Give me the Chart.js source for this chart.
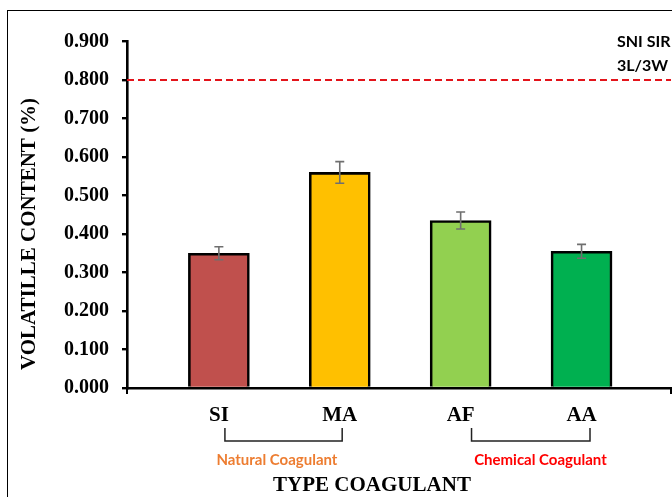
<!DOCTYPE html>
<html>
<head>
<meta charset="utf-8">
<script src="https://cdn.jsdelivr.net/npm/chart.js@4.4.1/dist/chart.umd.min.js"></script>
<style>
  html, body { margin: 0; padding: 0; background: #fff; overflow: hidden; }
  canvas { display: block; }
</style>
</head>
<body>
<canvas id="c" width="672" height="497"></canvas>
<script>
// Volatile content per coagulant type
const categories = ['SI', 'MA', 'AF', 'AA'];
const volatileContent = [0.350, 0.560, 0.435, 0.355];
const errorMargins = [0.017, 0.028, 0.022, 0.018];
const barColors = ['#C0504D', '#FFC000', '#92D050', '#00B050'];
const yTickValues = [0, 0.1, 0.2, 0.3, 0.4, 0.5, 0.6, 0.7, 0.8, 0.9];
const sniLimit = 0.8;
const sniLabel = ['SNI SIR', '3L/3W'];
const groupNames = ['Natural Coagulant', 'Chemical Coagulant'];
const groupColors = ['#ED7D31', '#FF0000'];

const X_MIN = -0.76, X_MAX = 3.74;
const SERIF = "'Liberation Serif', 'Times New Roman', serif";
const SANS = "Lato, 'Open Sans', sans-serif";

// Brackets under the category labels, in x-scale units
const brackets = [
  { from: 0.05, to: 1.02, labelAt: 0.48, name: groupNames[0], color: groupColors[0] },
  { from: 2.09, to: 3.07, labelAt: 2.66, name: groupNames[1], color: groupColors[1] }
];

const annotations = {
  id: 'annotations',
  beforeDraw(chart) {
    const ctx = chart.ctx;
    ctx.save();
    ctx.strokeStyle = '#000';
    ctx.lineWidth = 1;
    ctx.strokeRect(7.5, 10.5, 720, 600);
    ctx.restore();
  },
  afterDatasetsDraw(chart) {
    const ctx = chart.ctx;
    const xs = chart.scales.x, ys = chart.scales.y;
    ctx.save();
    // error bars
    ctx.strokeStyle = '#6f6f6f';
    ctx.lineWidth = 1.6;
    volatileContent.forEach((v, i) => {
      const x = xs.getPixelForValue(i);
      const yTop = ys.getPixelForValue(v + errorMargins[i]);
      const yBot = ys.getPixelForValue(v - errorMargins[i]);
      ctx.beginPath();
      ctx.moveTo(x, yTop); ctx.lineTo(x, yBot);
      ctx.moveTo(x - 4.5, yTop); ctx.lineTo(x + 4.5, yTop);
      ctx.moveTo(x - 4.5, yBot); ctx.lineTo(x + 4.5, yBot);
      ctx.stroke();
    });
    ctx.restore();
  },
  afterDraw(chart) {
    const ctx = chart.ctx;
    const xs = chart.scales.x;
    const area = chart.chartArea;
    ctx.save();
    // end ticks of the category axis
    ctx.strokeStyle = '#000';
    ctx.lineWidth = 2;
    [area.left, area.right].forEach(px => {
      ctx.beginPath();
      ctx.moveTo(px, area.bottom);
      ctx.lineTo(px, area.bottom + 6);
      ctx.stroke();
    });

    // group brackets and names
    ctx.strokeStyle = '#222';
    ctx.lineWidth = 1.5;
    brackets.forEach(b => {
      const x1 = xs.getPixelForValue(b.from), x2 = xs.getPixelForValue(b.to);
      ctx.beginPath();
      ctx.moveTo(x1, 428); ctx.lineTo(x1, 441); ctx.lineTo(x2, 441); ctx.lineTo(x2, 428);
      ctx.stroke();
      ctx.fillStyle = b.color;
      ctx.font = 'bold 15px ' + SANS;
      ctx.textAlign = 'center';
      ctx.textBaseline = 'middle';
      ctx.fillText(b.name, xs.getPixelForValue(b.labelAt), 460);
    });

    // axis titles
    ctx.fillStyle = '#000';
    ctx.font = 'bold 21px ' + SERIF;
    ctx.textAlign = 'center';
    ctx.textBaseline = 'middle';
    ctx.fillText('TYPE COAGULANT', 372, 486);
    ctx.save();
    ctx.translate(30, 234);
    ctx.rotate(-Math.PI / 2);
    ctx.fillText('VOLATILLE CONTENT (%)', 0, 0);
    ctx.restore();

    // standard limit label
    ctx.font = 'bold 16px ' + SANS;
    ctx.textAlign = 'left';
    ctx.fillText(sniLabel[0], 617, 42);
    ctx.fillText(sniLabel[1], 617, 66);
    ctx.restore();
  }
};

new Chart(document.getElementById('c'), {
  type: 'bar',
  data: {
    datasets: [
      {
        type: 'line',
        data: [{ x: X_MIN, y: sniLimit }, { x: X_MAX, y: sniLimit }],
        borderColor: '#E3141B',
        borderWidth: 1.8,
        borderDash: [7, 4],
        pointRadius: 0,
        fill: false,
        clip: false
      },
      {
        type: 'bar',
        data: categories.map((c, i) => ({ x: i, y: volatileContent[i] })),
        backgroundColor: barColors,
        borderColor: '#000',
        borderWidth: 2.6,
        barThickness: 61
      }
    ]
  },
  options: {
    responsive: false,
    animation: false,
    layout: { padding: { top: 41.5, right: 1, bottom: 0, left: 0 } },
    plugins: { legend: { display: false }, tooltip: { enabled: false } },
    scales: {
      x: {
        type: 'linear',
        offset: false,
        min: X_MIN,
        max: X_MAX,
        afterBuildTicks(scale) { scale.ticks = categories.map((_, i) => ({ value: i })); },
        afterFit(scale) { scale.height = 109; },
        grid: { display: false, offset: false },
        border: { display: true, color: '#000', width: 2.6 },
        ticks: {
          padding: 7,
          color: '#000',
          font: { family: SERIF, size: 21, weight: 'bold' },
          callback: v => categories[v]
        }
      },
      y: {
        min: 0,
        max: 0.9,
        afterBuildTicks(scale) { scale.ticks = yTickValues.map(v => ({ value: v })); },
        afterFit(scale) { scale.width = 127; },
        grid: { display: true, drawOnChartArea: false, drawTicks: true, tickLength: 5, color: '#000', lineWidth: 2.4 },
        border: { display: true, color: '#000', width: 2.6 },
        ticks: {
          padding: 13,
          color: '#000',
          font: { family: SERIF, size: 20, weight: 'bold' },
          callback: v => v.toFixed(3)
        }
      }
    }
  },
  plugins: [annotations]
});
</script>
</body>
</html>
